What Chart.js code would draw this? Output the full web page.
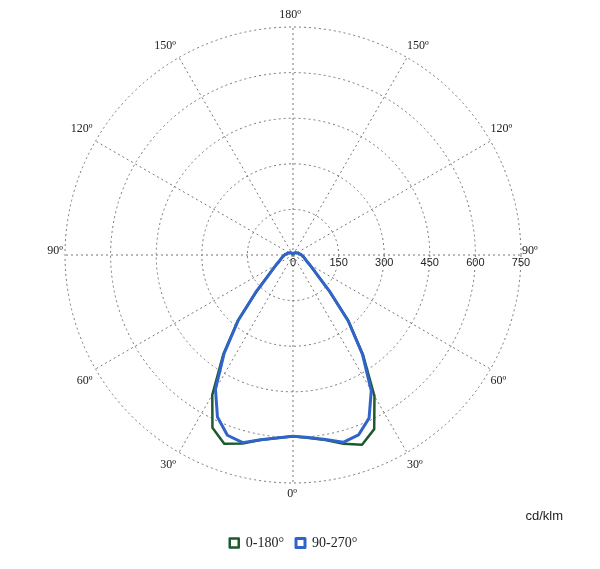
<!DOCTYPE html>
<html>
<head>
<meta charset="utf-8">
<script src="https://cdn.jsdelivr.net/npm/chart.js@4"></script>
<style>
  html, body { margin: 0; padding: 0; background: #fff; }
  #wrap { width: 600px; height: 569px; position: relative; }
</style>
</head>
<body>
<div id="wrap"><canvas id="chart"></canvas></div>
<script>
// angle around the diagram, measured clockwise from the bottom (0 = straight down)
const angles = [0, 5, 10, 15, 20, 25, 30, 35, 40, 45, 50, 55, 60, 65, 70, 75, 80, 85,
  90, 95, 100, 105, 110, 115, 120, 125, 130, 135, 140, 145, 150, 155, 160, 165, 170, 175,
  180, 185, 190, 195, 200, 205, 210, 215, 220, 225, 230, 235, 240, 245, 250, 255, 260, 265,
  270, 275, 280, 285, 290, 295, 300, 305, 310, 315, 320, 325, 330, 335, 340, 345, 350, 355];

// cd/klm, C0-C180 plane
const plane0_180 = [596, 604, 618, 642, 661, 627, 531, 400, 282, 172, 108, 80, 63, 51, 44, 39, 35, 31,
  28, 25, 22, 20, 18, 16, 14, 12, 11, 10, 9, 8, 7, 6, 6, 5, 5, 5,
  5, 5, 5, 5, 6, 6, 7, 8, 9, 10, 11, 12, 14, 16, 18, 20, 22, 25,
  28, 31, 35, 39, 44, 51, 63, 80, 108, 172, 283, 402, 536, 632, 664, 643, 618, 604];

// cd/klm, C90-C270 plane
const plane90_270 = [596, 604, 617, 639, 631, 588, 510, 395, 280, 172, 108, 80, 63, 51, 44, 39, 35, 31,
  28, 25, 22, 20, 18, 16, 14, 12, 11, 10, 9, 8, 7, 6, 6, 5, 5, 5,
  5, 5, 5, 5, 6, 6, 7, 8, 9, 10, 11, 12, 14, 16, 18, 20, 22, 25,
  28, 31, 35, 39, 44, 51, 63, 80, 108, 172, 282, 398, 515, 592, 630, 638, 616, 603];

const ringValues = [0, 150, 300, 450, 600, 750];
const spokeAngles = [0, 30, 60, 90, 120, 150, 180, 210, 240, 270, 300, 330];
const spokeLabels = ['0º', '30º', '60º', '90º', '120º', '150º', '180º', '150º', '120º', '90º', '60º', '30º'];

const gridColor = '#767676';

// angle names + ring values, drawn by hand since the scale's own ticks would rotate
const polarText = {
  id: 'polarText',
  afterDraw(chart) {
    const scale = chart.scales.r;
    const ctx = chart.ctx;
    ctx.save();
    ctx.fillStyle = '#222';

    ctx.font = '12px "Liberation Serif"';
    spokeAngles.forEach((phi, k) => {
      const p = scale.getPointPosition(angles.indexOf(phi), scale.drawingArea);
      let x = p.x, y = p.y;
      if (phi === 0) {
        ctx.textAlign = 'center'; ctx.textBaseline = 'top'; x -= 1; y += 5;
      } else if (phi === 180) {
        ctx.textAlign = 'center'; ctx.textBaseline = 'bottom'; x -= 3; y -= 6;
      } else if (phi === 90) {
        ctx.textAlign = 'right'; ctx.textBaseline = 'middle'; x -= 2; y -= 4;
      } else if (phi === 270) {
        ctx.textAlign = 'left'; ctx.textBaseline = 'middle'; x += 1; y -= 4;
      } else if (phi < 180) {
        ctx.textAlign = 'right'; x -= 3;
        if (phi < 90) { ctx.textBaseline = 'top'; y += 6; } else { ctx.textBaseline = 'bottom'; y -= 6; }
      } else {
        ctx.textAlign = 'left';
        if (phi > 270) { ctx.textBaseline = 'top'; y += 6; } else { ctx.textBaseline = 'bottom'; y -= 6; }
      }
      ctx.fillText(spokeLabels[k], x, y);
    });

    ctx.font = '11px "Liberation Sans"';
    ctx.textAlign = 'center';
    ctx.textBaseline = 'middle';
    ringValues.forEach(v => {
      ctx.fillText(String(v), scale.xCenter + scale.getDistanceFromCenterForValue(v), scale.yCenter + 8);
    });
    ctx.restore();
  }
};

new Chart(document.getElementById('chart'), {
  type: 'radar',
  data: {
    labels: angles,
    datasets: [{
      label: '0-180°',
      data: plane0_180,
      borderColor: '#1e5a2e',
      backgroundColor: '#fff',
      borderWidth: 2.5,
      fill: false,
      pointRadius: 0,
      order: 2
    }, {
      label: '90-270°',
      data: plane90_270,
      borderColor: '#3064c8',
      backgroundColor: '#fff',
      borderWidth: 3,
      fill: false,
      pointRadius: 0,
      order: 1
    }]
  },
  options: {
    responsive: true,
    maintainAspectRatio: false,
    animation: false,
    layout: { padding: { top: 27, left: 24, right: 37, bottom: 9 } },
    elements: { line: { tension: 0, borderJoinStyle: 'round' } },
    scales: {
      r: {
        min: 0,
        max: 750,
        startAngle: 180,
        ticks: { display: false, stepSize: 150 },
        grid: { circular: true, color: gridColor, lineWidth: 1 },
        border: { dash: [2, 3] },
        angleLines: {
          color: gridColor,
          borderDash: [2, 3],
          lineWidth: c => (angles[c.index] % 30 === 0 ? 1 : 0)
        },
        pointLabels: { display: false }
      }
    },
    plugins: {
      tooltip: { enabled: false },
      title: {
        display: true,
        text: 'cd/klm',
        position: 'bottom',
        align: 'end',
        weight: 500,
        color: '#222',
        font: { family: '"Liberation Sans"', size: 13, weight: 'normal' },
        padding: { top: 25, bottom: 0 }
      },
      legend: {
        position: 'bottom',
        labels: {
          boxWidth: 9,
          boxHeight: 9,
          padding: 12,
          color: '#222',
          font: { family: '"Liberation Serif"', size: 14 },
          sort: (a, b) => a.datasetIndex - b.datasetIndex
        }
      }
    }
  },
  plugins: [polarText]
});
</script>
</body>
</html>
